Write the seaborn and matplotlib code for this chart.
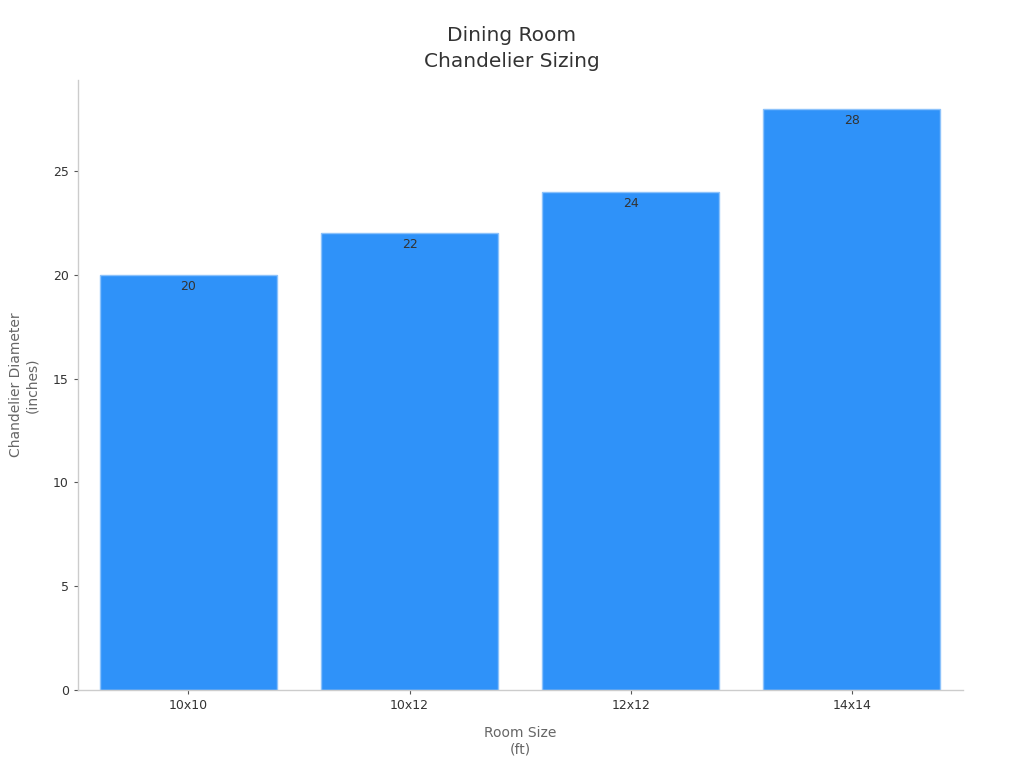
import matplotlib
matplotlib.use("Agg")
import matplotlib.pyplot as plt
import pandas as pd
import seaborn as sns

room_sizes = ["10x10", "10x12", "12x12", "14x14"]
diameters = [20, 22, 24, 28]

BAR_COLOR = "#2f92f9"
EDGE_COLOR = "#8cc2fb"


def main():
    sns.set_theme(style="white")
    plt.rcParams["font.family"] = ["DejaVu Sans"]

    df = pd.DataFrame({"room": room_sizes, "diameter": diameters})

    fig = plt.figure(figsize=(10.24, 7.68), dpi=100)
    ax = fig.add_axes([0.076, 0.1016, 0.864, 0.7944])

    sns.barplot(data=df, x="room", y="diameter", color=BAR_COLOR,
                edgecolor=EDGE_COLOR, linewidth=1, width=0.8, saturation=1, ax=ax)

    for patch, val in zip(ax.patches, diameters):
        x = patch.get_x() + patch.get_width() / 2
        ax.annotate(f"{val}", (x, patch.get_height()), xytext=(0, -3.5),
                    textcoords="offset points", ha="center", va="top",
                    fontsize=9, color="#333333")

    ax.set_xlim(-0.5, 3.5)
    ax.set_ylim(0, 29.4)
    ax.set_yticks([0, 5, 10, 15, 20, 25])

    fig.suptitle("Dining Room\nChandelier Sizing", x=0.5, y=0.966, fontsize=14.5,
                 color="#333333", linespacing=1.45)
    ax.set_xlabel("Room Size\n(ft)", fontsize=10, color="#666666", labelpad=10)
    ax.set_ylabel("Chandelier Diameter\n(inches)", fontsize=10, color="#666666", labelpad=10)

    for side in ["top", "right"]:
        ax.spines[side].set_visible(False)
    for side in ["left", "bottom"]:
        ax.spines[side].set_color("#cccccc")
        ax.spines[side].set_linewidth(1)

    ax.tick_params(axis="both", which="both", length=3, width=0.8, color="#555555",
                   labelsize=9, labelcolor="#333333", left=True, bottom=True)

    fig.savefig("out.png", dpi=100)
    plt.close(fig)


if __name__ == "__main__":
    main()
